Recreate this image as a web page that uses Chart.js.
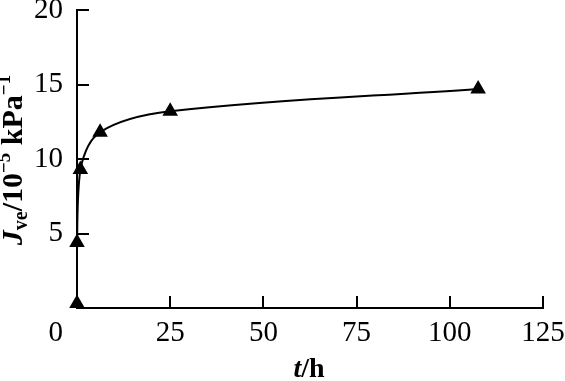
<!DOCTYPE html>
<html>
<head>
<meta charset="utf-8">
<script src="https://cdn.jsdelivr.net/npm/chart.js@4"></script>
<style>
html,body{margin:0;padding:0;background:#fff;}
#wrap{width:565px;height:381px;}
</style>
</head>
<body>
<div id="wrap"><canvas id="c" width="565" height="381"></canvas></div>
<script>
// Data
const timeHours = [0, 0, 0.9, 6.2, 25, 107.6];
const jveValues = [0.3, 4.4, 9.3, 11.8, 13.2, 14.7];
const xTicks = [0, 25, 50, 75, 100, 125];
const yTicks = [0, 5, 10, 15, 20];

const FONT = '"Liberation Serif", "Times New Roman", serif';
const points = timeHours.map((t, i) => ({x: t, y: jveValues[i]}));

function zeroPad(s) { s.paddingTop = 0; s.paddingBottom = 0; s.paddingLeft = 0; s.paddingRight = 0; }

const decor = {
  id: 'decor',
  afterDraw(chart) {
    const ctx = chart.ctx;
    const xs = chart.scales.x, ys = chart.scales.y;
    const area = chart.chartArea;
    ctx.save();
    ctx.strokeStyle = '#000';
    ctx.lineWidth = 2;
    ctx.beginPath();
    yTicks.forEach(v => {
      if (v === 0) return;
      const py = Math.round(ys.getPixelForValue(v));
      ctx.moveTo(area.left, py);
      ctx.lineTo(area.left + 12, py);
    });
    xTicks.forEach(v => {
      if (v === 0) return;
      const px = Math.round(xs.getPixelForValue(v));
      ctx.moveTo(px, area.bottom);
      ctx.lineTo(px, area.bottom - 12);
    });
    ctx.stroke();

    // origin label
    ctx.fillStyle = '#000';
    ctx.font = '29px ' + FONT;
    ctx.textAlign = 'right';
    ctx.textBaseline = 'middle';
    ctx.fillText('0', 63, 333);

    // x title  t/h
    ctx.textBaseline = 'alphabetic';
    ctx.textAlign = 'left';
    const xsegs = [
      {t: 't', f: 'italic bold 28px ' + FONT},
      {t: '/h', f: 'bold 28px ' + FONT}
    ];
    let w = 0;
    xsegs.forEach(s => { ctx.font = s.f; w += ctx.measureText(s.t).width; });
    let cx = 309 - w / 2;
    xsegs.forEach(s => { ctx.font = s.f; ctx.fillText(s.t, cx, 377); cx += ctx.measureText(s.t).width; });

    // y title  J_ve/10^-5 kPa^-1
    const ysegs = [
      {t: 'J', f: 'italic bold 30px ' + FONT, dy: 0},
      {t: 've', f: 'bold 20px ' + FONT, dy: 5},
      {t: '/10', f: 'bold 30px ' + FONT, dy: 0},
      {t: '\u22125', f: 'bold 19px ' + FONT, dy: -12},
      {t: ' kPa', f: 'bold 30px ' + FONT, dy: 0},
      {t: '\u22121', f: 'bold 19px ' + FONT, dy: -12}
    ];
    let W = 0;
    ysegs.forEach(s => { ctx.font = s.f; W += ctx.measureText(s.t).width; });
    ctx.translate(22, 160);
    ctx.rotate(-Math.PI / 2);
    let tx = -W / 2;
    ysegs.forEach(s => { ctx.font = s.f; ctx.fillText(s.t, tx, s.dy); tx += ctx.measureText(s.t).width; });
    ctx.restore();
  }
};

new Chart(document.getElementById('c'), {
  type: 'line',
  data: {
    datasets: [{
      data: points,
      borderColor: '#000',
      backgroundColor: '#000',
      borderWidth: 2,
      tension: 0.35,
      pointStyle: 'triangle',
      pointRadius: 9,
      pointBorderWidth: 0,
      pointBackgroundColor: '#000',
      clip: false
    }]
  },
  options: {
    responsive: false,
    devicePixelRatio: 1,
    animation: false,
    events: [],
    layout: {padding: {top: 10, right: 22, left: 0, bottom: 0}},
    plugins: {legend: {display: false}, tooltip: {enabled: false}},
    scales: {
      x: {
        type: 'linear',
        min: 0, max: 125,
        afterBuildTicks: s => { s.ticks = xTicks.map(v => ({value: v})); },
        afterFit: s => { s.height = 73; zeroPad(s); },
        ticks: {
          font: {size: 29, family: FONT},
          color: '#000',
          padding: 8,
          maxRotation: 0,
          autoSkip: false,
          callback: v => (v === 0 ? '' : String(v))
        },
        grid: {display: false, drawTicks: false},
        border: {display: true, color: '#000', width: 2}
      },
      y: {
        min: 0, max: 20,
        afterBuildTicks: s => { s.ticks = yTicks.map(v => ({value: v})); },
        afterFit: s => { s.width = 77; zeroPad(s); },
        ticks: {
          font: {size: 29, family: FONT},
          color: '#000',
          padding: 14,
          autoSkip: false,
          callback: v => (v === 0 ? '' : String(v))
        },
        grid: {display: false, drawTicks: false},
        border: {display: true, color: '#000', width: 2}
      }
    }
  },
  plugins: [decor]
});
</script>
</body>
</html>
